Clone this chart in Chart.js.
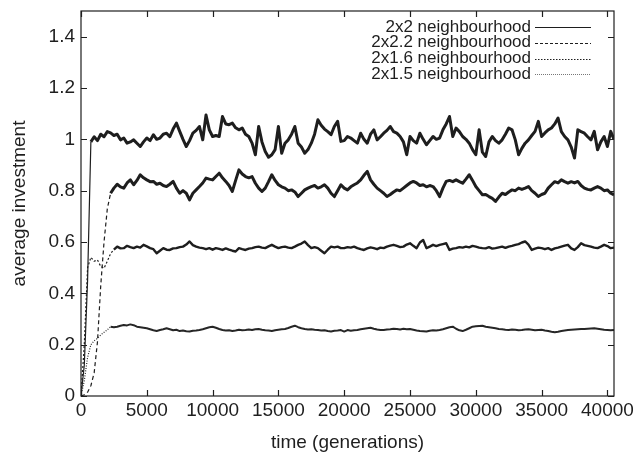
<!DOCTYPE html>
<html>
<head>
<meta charset="utf-8">
<script src="https://cdn.jsdelivr.net/npm/chart.js@4/dist/chart.umd.min.js"></script>
<style>
  html, body { margin: 0; padding: 0; background: #fff; }
  #wrap { width: 633px; height: 454px; }
</style>
</head>
<body>
<div id="wrap"><canvas id="investment" width="633" height="454"></canvas></div>
<script>
"use strict";

// time axis (generations)
var generations = [
    0, 250, 500, 750, 1000, 1250, 1500, 1750, 2000, 2250,
    2500, 2750, 3000, 3250, 3500, 3750, 4000, 4250, 4500, 4750,
    5000, 5250, 5500, 5750, 6000, 6250, 6500, 6750, 7000, 7250,
    7500, 7750, 8000, 8250, 8500, 8750, 9000, 9250, 9500, 9750,
    10000, 10250, 10500, 10750, 11000, 11250, 11500, 11750, 12000, 12250,
    12500, 12750, 13000, 13250, 13500, 13750, 14000, 14250, 14500, 14750,
    15000, 15250, 15500, 15750, 16000, 16250, 16500, 16750, 17000, 17250,
    17500, 17750, 18000, 18250, 18500, 18750, 19000, 19250, 19500, 19750,
    20000, 20250, 20500, 20750, 21000, 21250, 21500, 21750, 22000, 22250,
    22500, 22750, 23000, 23250, 23500, 23750, 24000, 24250, 24500, 24750,
    25000, 25250, 25500, 25750, 26000, 26250, 26500, 26750, 27000, 27250,
    27500, 27750, 28000, 28250, 28500, 28750, 29000, 29250, 29500, 29750,
    30000, 30250, 30500, 30750, 31000, 31250, 31500, 31750, 32000, 32250,
    32500, 32750, 33000, 33250, 33500, 33750, 34000, 34250, 34500, 34750,
    35000, 35250, 35500, 35750, 36000, 36250, 36500, 36750, 37000, 37250,
    37500, 37750, 38000, 38250, 38500, 38750, 39000, 39250, 39500, 39750,
    40000, 40250, 40500
];

// 2x2 neighbourhood
var hood2x2 = [
    0, 0.12, 0.45, 0.99, 1.01, 0.995, 1.02, 1.01, 1.03, 1.025,
    1.015, 1.02, 0.998, 1.005, 0.985, 0.99, 0.998, 0.985, 0.972, 0.99,
    1.005, 0.995, 1.018, 1.0, 1.005, 1.02, 1.024, 1.01, 1.04, 1.063,
    1.031, 1.0, 0.972, 0.995, 1.024, 1.035, 1.05, 0.998, 1.095, 1.037,
    1.011, 1.015, 1.011, 1.089, 1.06, 1.057, 1.063, 1.045, 1.037, 1.044,
    1.02, 1.011, 0.985, 0.94, 1.05, 0.99, 0.953, 0.93, 0.94, 0.96,
    1.05, 0.946, 0.985, 0.998, 1.02, 1.05, 0.985, 0.97, 0.946, 0.96,
    0.985, 1.02, 1.076, 1.055, 1.04, 1.03, 1.018, 1.05, 1.07, 0.992,
    0.995, 1.011, 1.005, 0.995, 0.985, 1.024, 1.0, 0.985, 1.02, 1.037,
    0.998, 1.01, 1.024, 1.035, 1.05, 1.03, 1.024, 1.011, 0.99, 0.94,
    1.011, 0.995, 0.985, 1.024, 1.0, 0.979, 0.995, 1.011, 1.0, 1.005,
    1.037, 1.06, 1.089, 1.011, 1.044, 1.03, 1.011, 1.0, 0.985, 0.96,
    0.94, 1.037, 0.95, 0.933, 0.99, 1.011, 0.995, 0.985, 0.998, 1.02,
    1.044, 1.037, 0.998, 0.94, 0.965, 0.985, 0.998, 1.015, 1.031, 1.07,
    1.011, 1.025, 1.037, 1.044, 1.06, 1.083, 1.03, 1.011, 0.998, 0.97,
    0.927, 1.037, 1.03, 1.024, 1.01, 0.998, 1.031, 0.959, 0.99, 1.011,
    0.972, 1.031, 1.0
];

// 2x2.2 neighbourhood
var hood2x22 = [
    0, 0.005, 0.015, 0.04, 0.09, 0.21, 0.43, 0.6, 0.73, 0.79,
    0.81, 0.825, 0.815, 0.81, 0.83, 0.842, 0.823, 0.84, 0.862, 0.85,
    0.842, 0.835, 0.836, 0.825, 0.829, 0.82, 0.816, 0.825, 0.836, 0.81,
    0.79, 0.8, 0.79, 0.764, 0.79, 0.803, 0.816, 0.83, 0.849, 0.845,
    0.842, 0.855, 0.868, 0.85, 0.836, 0.82, 0.797, 0.84, 0.881, 0.865,
    0.855, 0.85, 0.855, 0.829, 0.81, 0.797, 0.81, 0.835, 0.862, 0.84,
    0.823, 0.815, 0.81, 0.8, 0.803, 0.795, 0.777, 0.79, 0.803, 0.81,
    0.816, 0.82, 0.81, 0.815, 0.823, 0.81, 0.79, 0.777, 0.8, 0.823,
    0.81, 0.803, 0.815, 0.823, 0.83, 0.842, 0.86, 0.875, 0.842, 0.825,
    0.81, 0.8, 0.79, 0.777, 0.785, 0.795, 0.803, 0.8, 0.81, 0.82,
    0.83, 0.836, 0.83, 0.82, 0.823, 0.815, 0.82, 0.816, 0.8, 0.777,
    0.81, 0.836, 0.84, 0.835, 0.842, 0.835, 0.829, 0.845, 0.862, 0.84,
    0.816, 0.8, 0.784, 0.785, 0.777, 0.77, 0.758, 0.775, 0.79, 0.785,
    0.795, 0.803, 0.8, 0.81, 0.805, 0.81, 0.816, 0.8, 0.79, 0.777,
    0.785, 0.79, 0.81, 0.823, 0.835, 0.83, 0.842, 0.835, 0.829, 0.835,
    0.83, 0.836, 0.82, 0.81, 0.805, 0.803, 0.81, 0.816, 0.81, 0.8,
    0.803, 0.79, 0.784
];

// 2x1.6 neighbourhood
var hood2x16 = [
    0, 0.2, 0.5, 0.54, 0.525, 0.53, 0.505, 0.498, 0.525, 0.555,
    0.57, 0.582, 0.575, 0.576, 0.585, 0.58, 0.576, 0.582, 0.578, 0.589,
    0.583, 0.576, 0.572, 0.556, 0.566, 0.576, 0.57, 0.569, 0.575, 0.576,
    0.58, 0.582, 0.59, 0.602, 0.588, 0.582, 0.578, 0.576, 0.572, 0.576,
    0.57, 0.576, 0.573, 0.569, 0.575, 0.57, 0.566, 0.563, 0.576, 0.572,
    0.569, 0.574, 0.576, 0.58, 0.582, 0.578, 0.576, 0.583, 0.589, 0.582,
    0.576, 0.58, 0.582, 0.578, 0.576, 0.582, 0.589, 0.594, 0.602, 0.588,
    0.576, 0.58, 0.576, 0.566, 0.556, 0.57, 0.582, 0.579, 0.582, 0.576,
    0.576, 0.58, 0.578, 0.582, 0.576, 0.572, 0.569, 0.575, 0.579, 0.576,
    0.572, 0.578, 0.576, 0.582, 0.586, 0.589, 0.585, 0.58, 0.582, 0.59,
    0.595, 0.585, 0.576, 0.598, 0.608, 0.576, 0.582, 0.589, 0.584, 0.589,
    0.592, 0.595, 0.569, 0.574, 0.576, 0.58, 0.578, 0.582, 0.579, 0.585,
    0.582, 0.578, 0.576, 0.575, 0.58, 0.574, 0.576, 0.579, 0.582, 0.577,
    0.582, 0.585, 0.589, 0.592, 0.598, 0.602, 0.59, 0.569, 0.574, 0.578,
    0.576, 0.572, 0.576, 0.569, 0.575, 0.578, 0.582, 0.586, 0.589, 0.575,
    0.569, 0.58, 0.595, 0.588, 0.585, 0.582, 0.578, 0.576, 0.582, 0.589,
    0.584, 0.576, 0.578
];

// 2x1.5 neighbourhood
var hood2x15 = [
    0, 0.06, 0.15, 0.2, 0.215, 0.225, 0.238, 0.248, 0.258, 0.27,
    0.268, 0.27, 0.274, 0.277, 0.275, 0.279, 0.276, 0.27, 0.268, 0.266,
    0.264, 0.26, 0.256, 0.253, 0.257, 0.26, 0.264, 0.26, 0.256, 0.258,
    0.253, 0.255, 0.252, 0.251, 0.254, 0.255, 0.257, 0.26, 0.264, 0.268,
    0.27, 0.266, 0.261, 0.257, 0.255, 0.256, 0.253, 0.255, 0.258, 0.256,
    0.257, 0.259, 0.257, 0.26, 0.261, 0.258, 0.256, 0.255, 0.253, 0.256,
    0.258, 0.26, 0.261, 0.265, 0.27, 0.274, 0.268, 0.264, 0.261, 0.259,
    0.26, 0.258, 0.257, 0.255, 0.256, 0.253, 0.251, 0.254, 0.255, 0.257,
    0.251, 0.257, 0.254, 0.256, 0.257, 0.26, 0.262, 0.264, 0.266, 0.262,
    0.259, 0.257, 0.257, 0.259, 0.26, 0.262, 0.261, 0.259, 0.262, 0.26,
    0.261, 0.258, 0.255, 0.253, 0.252, 0.251, 0.254, 0.256, 0.255, 0.257,
    0.26, 0.264, 0.268, 0.27, 0.262, 0.256, 0.253, 0.258, 0.264, 0.27,
    0.272, 0.273, 0.274, 0.27, 0.268, 0.266, 0.264, 0.261, 0.26, 0.258,
    0.257, 0.259, 0.258, 0.256, 0.257, 0.259, 0.26, 0.258, 0.256, 0.257,
    0.258, 0.255, 0.253, 0.25, 0.248, 0.25, 0.253, 0.255, 0.257, 0.258,
    0.259, 0.26, 0.261, 0.261, 0.262, 0.263, 0.264, 0.262, 0.26, 0.258,
    0.257, 0.256, 0.257
];

// tick labels
var xTicks = [0, 5000, 10000, 15000, 20000, 25000, 30000, 35000, 40000];
var yTicks = [0, 0.2, 0.4, 0.6, 0.8, 1, 1.2, 1.4];

var FONT = '"Liberation Sans", Arial, Helvetica, sans-serif';
var INK = '#1e1e1e';

function points(values) {
    return generations.map(function (g, i) { return { x: g, y: values[i] }; });
}

// the steep start is drawn thin (and dashed), the noisy plateau as a thick band
function startDash(dash, upto) {
    return function (ctx) { return ctx.p0DataIndex < upto ? dash : undefined; };
}
function startWidth(upto) {
    return function (ctx) { return ctx.p0DataIndex < upto ? 1.2 : undefined; };
}

// gnuplot style frame with inward ticks on all four sides
var framePlugin = {
    id: 'frame',
    afterDatasetsDraw: function (chart) {
        var ctx = chart.ctx, a = chart.chartArea;
        var sx = chart.scales.x, sy = chart.scales.y;
        ctx.save();
        ctx.strokeStyle = INK;
        ctx.lineWidth = 1.2;
        ctx.setLineDash([]);
        ctx.strokeRect(a.left, a.top, a.right - a.left, a.bottom - a.top);
        ctx.beginPath();
        xTicks.forEach(function (v) {
            var px = Math.round(sx.getPixelForValue(v)) + 0.5;
            ctx.moveTo(px, a.bottom); ctx.lineTo(px, a.bottom - 6);
            ctx.moveTo(px, a.top); ctx.lineTo(px, a.top + 6);
        });
        yTicks.forEach(function (v) {
            var py = Math.round(sy.getPixelForValue(v)) + 0.5;
            ctx.moveTo(a.left, py); ctx.lineTo(a.left + 6, py);
            ctx.moveTo(a.right, py); ctx.lineTo(a.right - 6, py);
        });
        ctx.stroke();
        ctx.restore();
    }
};

// key in the top right corner: text, then line sample
var keyPlugin = {
    id: 'key',
    afterDatasetsDraw: function (chart) {
        var ctx = chart.ctx, a = chart.chartArea;
        ctx.save();
        ctx.font = '17px ' + FONT;
        ctx.textAlign = 'right';
        ctx.textBaseline = 'middle';
        chart.data.datasets.forEach(function (ds, i) {
            var y = a.top + 16 + i * 15.8;
            ctx.fillStyle = INK;
            ctx.fillText(ds.label, a.right - 83, y);
            ctx.strokeStyle = ds.keyColor;
            ctx.lineWidth = 1;
            ctx.setLineDash(ds.keyDash);
            ctx.beginPath();
            ctx.moveTo(a.right - 79, Math.round(y) + 0.5);
            ctx.lineTo(a.right - 23, Math.round(y) + 0.5);
            ctx.stroke();
        });
        ctx.restore();
    }
};

var ctx1 = document.getElementById('investment').getContext('2d');
var investmentChart = new Chart(ctx1, {
    type: 'line',
    data: {
        datasets: [{
            label: '2x2 neighbourhood',
            data: points(hood2x2),
            borderColor: INK,
            borderWidth: 3,
            segment: { borderWidth: startWidth(3) },
            keyColor: INK,
            keyDash: []
        }, {
            label: '2x2.2 neighbourhood',
            data: points(hood2x22),
            borderColor: INK,
            borderWidth: 3,
            segment: { borderDash: startDash([4, 3], 9), borderWidth: startWidth(9) },
            keyColor: INK,
            keyDash: [3, 2]
        }, {
            label: '2x1.6 neighbourhood',
            data: points(hood2x16),
            borderColor: INK,
            borderWidth: 2.4,
            segment: { borderDash: startDash([2, 2], 10), borderWidth: startWidth(10) },
            keyColor: INK,
            keyDash: [1.5, 1.5]
        }, {
            label: '2x1.5 neighbourhood',
            data: points(hood2x15),
            borderColor: '#262626',
            borderWidth: 2,
            segment: { borderDash: startDash([1, 1.5], 9), borderWidth: startWidth(9) },
            keyColor: '#777',
            keyDash: [1, 1]
        }]
    },
    options: {
        responsive: false,
        animation: false,
        layout: { padding: { left: 0, right: 19, top: 11, bottom: 0 } },
        elements: {
            point: { radius: 0 },
            line: { tension: 0, borderJoinStyle: 'round' }
        },
        plugins: {
            legend: { display: false },
            tooltip: { enabled: false }
        },
        scales: {
            x: {
                type: 'linear',
                min: 0,
                max: 40500,
                afterBuildTicks: function (s) { s.ticks = xTicks.map(function (v) { return { value: v }; }); },
                afterFit: function (s) { s.height = 58; s.paddingLeft = 0; s.paddingRight = 0; },
                grid: { display: false, drawTicks: false },
                border: { display: false },
                ticks: {
                    padding: 3,
                    color: INK,
                    maxRotation: 0,
                    autoSkip: false,
                    font: { family: FONT, size: 19 },
                    callback: function (v) { return String(v); }
                },
                title: {
                    display: true,
                    text: 'time (generations)',
                    color: INK,
                    font: { family: FONT, size: 19 },
                    padding: { top: 0, bottom: 0 }
                }
            },
            y: {
                type: 'linear',
                min: 0,
                max: 1.5,
                afterBuildTicks: function (s) { s.ticks = yTicks.map(function (v) { return { value: v }; }); },
                afterFit: function (s) { s.width = 81; s.paddingTop = 0; s.paddingBottom = 0; },
                grid: { display: false, drawTicks: false },
                border: { display: false },
                ticks: {
                    padding: 6,
                    color: INK,
                    font: { family: FONT, size: 19 },
                    callback: function (v) { return String(Math.round(v * 10) / 10); }
                },
                title: {
                    display: true,
                    text: 'average investment',
                    color: INK,
                    font: { family: FONT, size: 19 },
                    padding: { top: 8, bottom: 0 }
                }
            }
        }
    },
    plugins: [framePlugin, keyPlugin]
});
</script>
</body>
</html>
